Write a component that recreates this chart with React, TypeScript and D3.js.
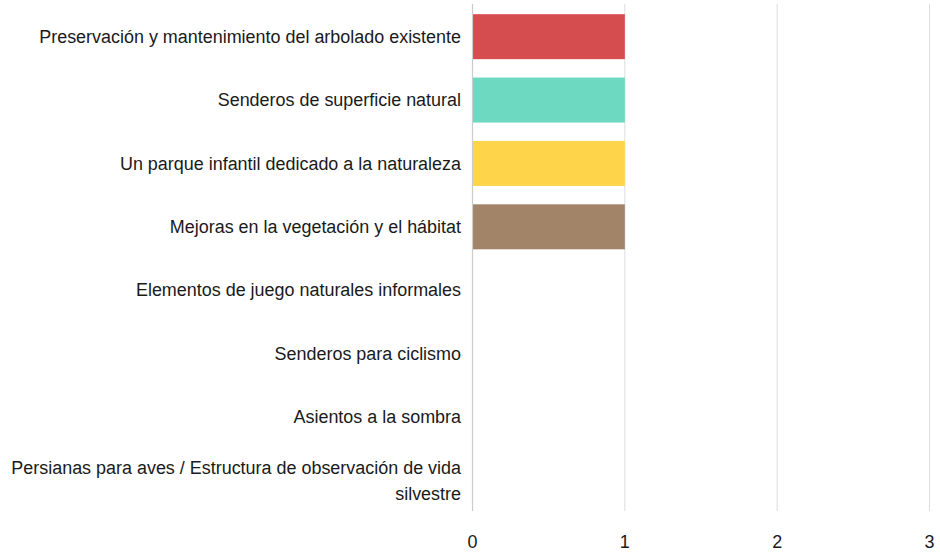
import React, { useEffect, useRef } from "react";
import * as d3 from "d3";

const categories = [
  "Preservación y mantenimiento del arbolado existente",
  "Senderos de superficie natural",
  "Un parque infantil dedicado a la naturaleza",
  "Mejoras en la vegetación y el hábitat",
  "Elementos de juego naturales informales",
  "Senderos para ciclismo",
  "Asientos a la sombra",
  "Persianas para aves / Estructura de observación de vida silvestre",
];
const values = [1, 1, 1, 1, 0, 0, 0, 0];
const colors = ["#d64d4f", "#6cd9c0", "#fed54a", "#a28468", "#8cc2e6", "#9c7bc9", "#e8903e", "#5aa0d6"];
const xTicks = [0, 1, 2, 3];

const W = 940;
const H = 556;
const FONT = "'Liberation Sans', Arial, sans-serif";
const FS = 17.95;

export default function App() {
  const ref = useRef<SVGSVGElement>(null);
  useEffect(() => {
    const svg = d3.select(ref.current);
    svg.selectAll("*").remove();
    const x = d3.scaleLinear().domain([0, 3]).range([472.5, 929.5]);
    const y = d3.scaleBand<string>().domain(categories).range([5, 512]).paddingInner(0.29).paddingOuter(0.145);
    const yStep = d3.scaleBand<string>().domain(categories).range([5, 512]);

    // grid
    svg.append("g").selectAll("line").data(xTicks.filter((t) => t > 0)).join("line")
      .attr("x1", (d) => x(d)).attr("x2", (d) => x(d))
      .attr("y1", 4).attr("y2", 511)
      .attr("stroke", "#dddddd").attr("stroke-width", 1);

    // bars
    svg.append("g").selectAll("rect").data(categories).join("rect")
      .attr("x", x(0))
      .attr("y", (d) => y(d)!)
      .attr("width", (d, i) => x(values[i]) - x(0))
      .attr("height", y.bandwidth())
      .attr("fill", (d, i) => colors[i]);

    // axis line at 0
    svg.append("line").attr("x1", x(0)).attr("x2", x(0)).attr("y1", 4).attr("y2", 511)
      .attr("stroke", "#cccccc").attr("stroke-width", 1.2);

    // x tick labels
    svg.append("g").selectAll("text").data(xTicks).join("text")
      .attr("x", (d) => x(d)).attr("y", 542).attr("dy", "0.35em")
      .attr("text-anchor", "middle")
      .attr("font-family", FONT).attr("font-size", FS).attr("fill", "#1a1a1a")
      .text((d) => String(d));

    // y labels with wrapping
    const maxW = 452;
    const lineH = 26;
    const g = svg.append("g");
    categories.forEach((c) => {
      const cy = yStep(c)! + yStep.bandwidth() / 2;
      const t = g.append("text")
        .attr("x", 461).attr("text-anchor", "end")
        .attr("font-family", FONT).attr("font-size", FS).attr("fill", "#1a1a1a");
      const words = c.split(" ");
      const lines: string[] = [];
      let cur: string[] = [];
      const probe = t.append("tspan");
      words.forEach((w) => {
        const test = [...cur, w].join(" ");
        probe.text(test);
        if ((probe.node() as SVGTSpanElement).getComputedTextLength() > maxW && cur.length) {
          lines.push(cur.join(" "));
          cur = [w];
        } else cur.push(w);
      });
      lines.push(cur.join(" "));
      probe.remove();
      const start = cy - ((lines.length - 1) * lineH) / 2;
      lines.forEach((l, i) => {
        t.append("tspan").attr("x", 461).attr("y", start + i * lineH).attr("dy", "0.35em").text(l);
      });
    });
  }, []);
  return <svg ref={ref} width={W} height={H} style={{ display: "block", position: "absolute", left: 0, top: 0 }} />;
}
